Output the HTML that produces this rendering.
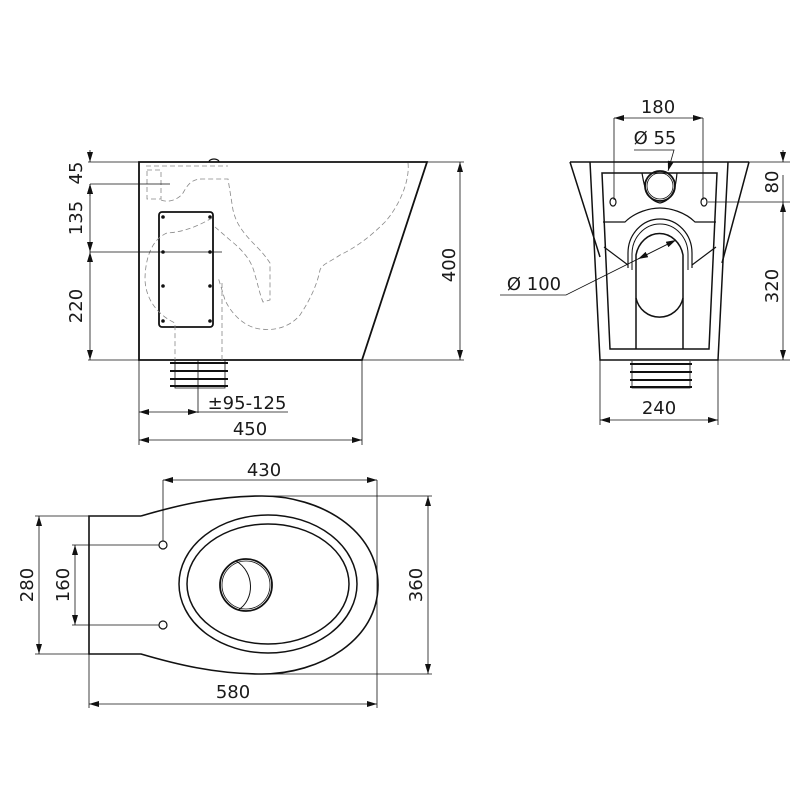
<!DOCTYPE html>
<html><head><meta charset="utf-8"><style>
html,body{margin:0;padding:0;background:#fff}
svg{display:block}
text{font-family:"DejaVu Sans","Liberation Sans",sans-serif;font-size:18px;fill:#1a1a1a}
</style></head><body>
<svg width="800" height="800" viewBox="0 0 800 800" xmlns="http://www.w3.org/2000/svg">
<defs>
<marker id="a" viewBox="0 0 10 6" refX="10" refY="3" markerWidth="10" markerHeight="6" orient="auto-start-reverse" markerUnits="userSpaceOnUse"><path d="M0,0 L10,3 L0,6 z" fill="#111"/></marker>
</defs>
<g fill="none" stroke="#111" stroke-width="0.8">
<!-- SIDE VIEW -->
<path d="M139,162 L427,162 L362,360 L139,360 Z" stroke-width="1.8"/>
<path d="M209,162 a5,3 0 0 1 10,0" stroke-width="1.2"/>
<rect x="159" y="212" width="54" height="115" rx="3" stroke-width="1.8"/>
<g fill="#111" stroke="none">
<circle cx="163" cy="217" r="1.8"/><circle cx="210" cy="217" r="1.8"/>
<circle cx="163" cy="252" r="1.8"/><circle cx="210" cy="252" r="1.8"/>
<circle cx="163" cy="286" r="1.8"/><circle cx="210" cy="286" r="1.8"/>
<circle cx="163" cy="321" r="1.8"/><circle cx="210" cy="321" r="1.8"/>
</g>
<g stroke="#888" stroke-dasharray="5,3">
<path d="M146,166 L228,166"/>
<path d="M147,170 L161,170 L161,199 L147,199 Z"/>
<path d="M161,200 C168,203 178,200 183,193 C188,184 192,179 202,179 L228,179 L233,210 C236,222 240,230 257,247 C265,255 270,263 270,263 L270,300 L263,302 C260,295 258,285 255,275 C252,262 245,252 230,240 L215,227"/>
<path d="M408,163 C410,180 400,205 385,222 C370,237 355,248 340,255 C330,262 322,264 320,270 C317,285 310,300 300,315 C290,327 275,331 260,329 C245,327 232,315 225,300 L218,277"/>
<path d="M212,218 C200,225 185,232 167,233 C150,240 145,262 145,280 C146,300 158,315 175,323 L175,360"/>
<path d="M222,283 L222,360"/>
</g>
<!-- outlet -->
<path d="M175,360 L175,388 L225,388 L225,360"/>
<g stroke-width="2"><path d="M170,363 L228,363 M170,371 L228,371 M170,379 L228,379 M170,386 L228,386"/></g>
<!-- side dims -->
<path d="M88,162 L139,162 M90,184 L170,184 M90,252 L222,252 M88,360 L139,360"/>
<path d="M90,150 L90,162" marker-end="url(#a)"/>
<path d="M90,196 L90,184" marker-end="url(#a)"/>
<path d="M90,184 L90,252" marker-start="url(#a)" marker-end="url(#a)"/>
<path d="M90,252 L90,360" marker-start="url(#a)" marker-end="url(#a)"/>
<path d="M427,162 L464,162 M362,360 L464,360"/>
<path d="M460,162 L460,360" marker-start="url(#a)" marker-end="url(#a)"/>
<path d="M139,360 L139,445 M362,360 L362,445 M198,360 L198,413"/>
<path d="M139,412 L198,412" marker-start="url(#a)" marker-end="url(#a)"/>
<path d="M198,412 L288,412"/>
<path d="M139,440 L362,440" marker-start="url(#a)" marker-end="url(#a)"/>

<!-- FRONT VIEW -->
<path d="M570,162 L749,162 M570,162 L600,257 M749,162 L722,263" stroke-width="1.5"/>
<path d="M590,162 L600,360 L718,360 L728,162" stroke-width="1.5"/>
<path d="M602,173 L717,173 L709,349 L610,349 Z" stroke-width="1.5"/>
<path d="M642,173 C644,185 646,200 660,203 C674,200 676,185 677,173" stroke-width="1.2"/>
<circle cx="660" cy="186" r="15" stroke-width="1.8"/>
<circle cx="660" cy="186" r="13" stroke-width="0.8"/>
<ellipse cx="613" cy="202" rx="3" ry="4" stroke-width="1.2"/>
<ellipse cx="704" cy="202" rx="3" ry="4" stroke-width="1.2"/>
<path d="M603,222 L625,222 C635,212 650,208 660,208 C670,208 685,212 695,222 L716,222" stroke-width="1.2"/>
<path d="M604,247 L628,265 M716,247 L692,265" stroke-width="1.2"/>
<path d="M628,268 L628,253 A32,34 0 0 1 692,253 L692,268" stroke-width="1.2"/>
<path d="M632,270 L632,254 A28,30 0 0 1 688,254 L688,270" stroke-width="1"/>
<path d="M636,349 L636,255 A24,27 0 0 1 683,255 L683,349" stroke-width="1.5"/>
<path d="M636,298 A24,24 0 0 0 683,298" stroke-width="1.5"/>
<path d="M632,361 L632,388 L690,388 L690,361"/>
<g stroke-width="2"><path d="M630,364 L692,364 M630,372 L692,372 M630,380 L692,380 M630,387 L692,387"/></g>
<!-- front dims -->
<path d="M614,118 L614,200 M703,118 L703,200"/>
<path d="M614,118 L703,118" marker-start="url(#a)" marker-end="url(#a)"/>
<path d="M634,150 L674,150 L668,171" marker-end="url(#a)"/>
<path d="M500,295 L566,295 L676,240" marker-end="url(#a)"/>
<path d="M676,240 L638,259" marker-end="url(#a)"/>
<path d="M749,162 L790,162 M708,202 L790,202 M718,360 L790,360"/>
<path d="M783,150 L783,162" marker-end="url(#a)"/>
<path d="M783,202 L783,360" marker-start="url(#a)" marker-end="url(#a)"/>
<path d="M783,175 L783,202"/>
<path d="M600,360 L600,425 M718,360 L718,425"/>
<path d="M600,420 L718,420" marker-start="url(#a)" marker-end="url(#a)"/>

<!-- TOP VIEW -->
<path d="M141,516 L89,516 L89,654 L141,654 C175,664 215,674 262,674 C320,674 378,640 378,585 C378,530 320,496 262,496 C215,496 175,506 141,516" stroke-width="1.6"/>
<ellipse cx="268" cy="584" rx="89" ry="69" stroke-width="1.5"/>
<ellipse cx="268" cy="584" rx="81" ry="60" stroke-width="1.5"/>
<circle cx="246" cy="585" r="26" stroke-width="1.8"/>
<circle cx="246" cy="585" r="24" stroke-width="0.8"/>
<path d="M236,561 C255,572 255,600 238,610" stroke-width="1"/>
<circle cx="163" cy="545" r="4" stroke-width="1.2"/>
<circle cx="163" cy="625" r="4" stroke-width="1.2"/>
<path d="M163,480 L163,541 M377,480 L377,708"/>
<path d="M163,480 L377,480" marker-start="url(#a)" marker-end="url(#a)"/>
<path d="M262,496 L432,496 M262,674 L432,674"/>
<path d="M428,496 L428,674" marker-start="url(#a)" marker-end="url(#a)"/>
<path d="M35,516 L89,516 M35,654 L89,654"/>
<path d="M39,516 L39,654" marker-start="url(#a)" marker-end="url(#a)"/>
<path d="M72,545 L159,545 M72,625 L159,625"/>
<path d="M75,545 L75,625" marker-start="url(#a)" marker-end="url(#a)"/>
<path d="M89,654 L89,708"/>
<path d="M89,704 L377,704" marker-start="url(#a)" marker-end="url(#a)"/>
</g>
<!-- labels -->
<text x="82" y="173" text-anchor="middle" transform="rotate(-90 82 173)">45</text>
<text x="82" y="218" text-anchor="middle" transform="rotate(-90 82 218)">135</text>
<text x="82" y="306" text-anchor="middle" transform="rotate(-90 82 306)">220</text>
<text x="455" y="265" text-anchor="middle" transform="rotate(-90 455 265)">400</text>
<text x="247" y="409" text-anchor="middle">±95-125</text>
<text x="250" y="435" text-anchor="middle">450</text>
<text x="658" y="113" text-anchor="middle">180</text>
<text x="655" y="144" text-anchor="middle">Ø 55</text>
<text x="534" y="290" text-anchor="middle">Ø 100</text>
<text x="778" y="182" text-anchor="middle" transform="rotate(-90 778 182)">80</text>
<text x="778" y="286" text-anchor="middle" transform="rotate(-90 778 286)">320</text>
<text x="659" y="414" text-anchor="middle">240</text>
<text x="264" y="476" text-anchor="middle">430</text>
<text x="422" y="585" text-anchor="middle" transform="rotate(-90 422 585)">360</text>
<text x="33" y="585" text-anchor="middle" transform="rotate(-90 33 585)">280</text>
<text x="69" y="585" text-anchor="middle" transform="rotate(-90 69 585)">160</text>
<text x="233" y="698" text-anchor="middle">580</text>
</svg>
</body></html>
